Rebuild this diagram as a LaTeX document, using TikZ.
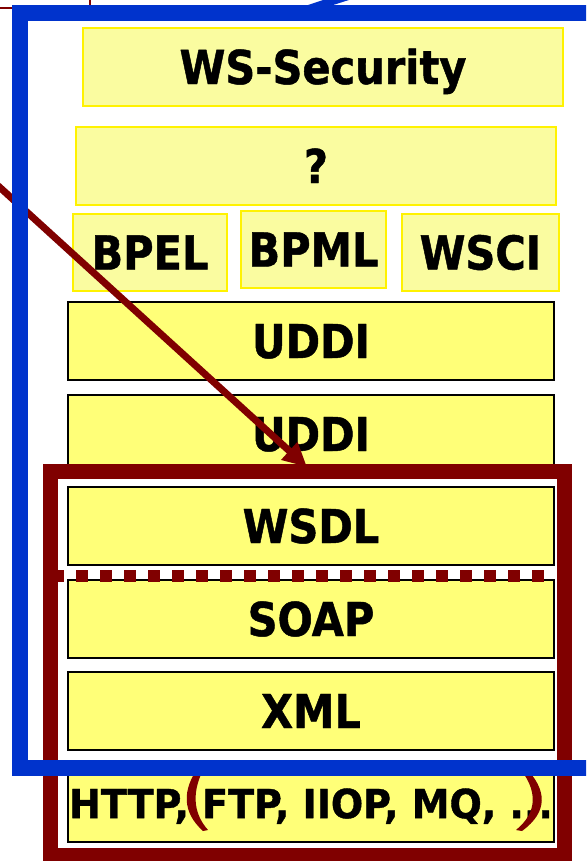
\documentclass[tikz,border=0pt]{standalone}
\usepackage{fontspec}
\newfontfamily\lbl{DejaVu Sans}[FakeStretch=0.89, FakeBold=1]
\newfontfamily\lblwide{DejaVu Sans}[FakeStretch=0.95, FakeBold=1]
\usetikzlibrary{arrows.meta}
\definecolor{wsblue}{RGB}{0,51,204}
\definecolor{wsred}{RGB}{128,0,0}
\definecolor{paleyel}{RGB}{250,252,160}
\definecolor{hatchyel}{RGB}{255,255,120}
\begin{document}
\begin{tikzpicture}[x=0.75pt,y=-0.75pt,
  lblfont/.style={font=\lbl\bfseries\fontsize{35}{40}\selectfont, text height=25.5pt, text depth=0pt},
  topbox/.style={draw=yellow, line width=1.5pt, fill=paleyel, inner sep=0pt, lblfont},
  stackbox/.style={draw=black, line width=1.5pt, fill=hatchyel, inner sep=0pt,
    minimum width=364.5pt, minimum height=58.5pt, lblfont},
]
\clip (0,0) rectangle (586,861);
\fill[white] (0,0) rectangle (586,861);
% thin red frame corner at top left
\draw[wsred, line width=1.5pt] (-2,8) -- (90,8) -- (90,-2);
% upper layers
\node[topbox, minimum width=360pt, minimum height=58.5pt] (wssec) at (323,67) {WS-Security};
\node[topbox, minimum width=360pt, minimum height=58.5pt] (q) at (316,166) {?};
\node[topbox, minimum width=115.5pt, minimum height=57.75pt] (bpel) at (150,252.5) {BPEL};
\node[topbox, minimum width=108.75pt, minimum height=57.75pt] (bpml) at (313.5,249.5) {BPML};
\node[topbox, minimum width=117.75pt, minimum height=57.75pt] (wsci) at (480.5,252.5) {WSCI};
% stack
\node[stackbox] (uddia) at (311,341) {UDDI};
\node[stackbox] (uddib) at (311,434) {UDDI};
\node[stackbox] (wsdl) at (311,526) {WSDL};
\node[stackbox] (soap) at (311,619) {SOAP};
\node[stackbox] (xml) at (311,711) {XML};
\node[stackbox, minimum height=57.75pt, font=\lblwide\bfseries\fontsize{30}{34}\selectfont, text height=21.9pt] (http) at (311,803.5) {HTTP, FTP, IIOP, MQ, ...};
% arrow
\coordinate (arrowstart) at (-5,183);
\coordinate (arrowtip) at (307,467);
\draw[wsred, line width=5.25pt, -{Triangle[length=18pt,width=17pt]}] (arrowstart) -- (arrowtip);
% red frame
\draw[wsred, line width=11.25pt] (50.5,471.5) rectangle (564.5,855.5);
\draw[wsred, line width=9pt, dash pattern=on 9pt off 9pt] (52,576) -- (544,576);
% parentheses
\fill[wsred] (199,766) .. controls (182,790) and (182,812) .. (203,831)
  -- (208,830) .. controls (192,812) and (192,790) .. (205,766) -- cycle;
\fill[wsred] (524,766) .. controls (548,790) and (548,812) .. (522,831)
  -- (516,830) .. controls (538,812) and (538,790) .. (518,766) -- cycle;
% blue frame
\draw[wsblue, line width=12pt] (20,13) rectangle (620,768);
\fill[wsblue] (305,6) -- (326,-1) -- (352,-1) -- (330,6) -- cycle;
\end{tikzpicture}
\end{document}
